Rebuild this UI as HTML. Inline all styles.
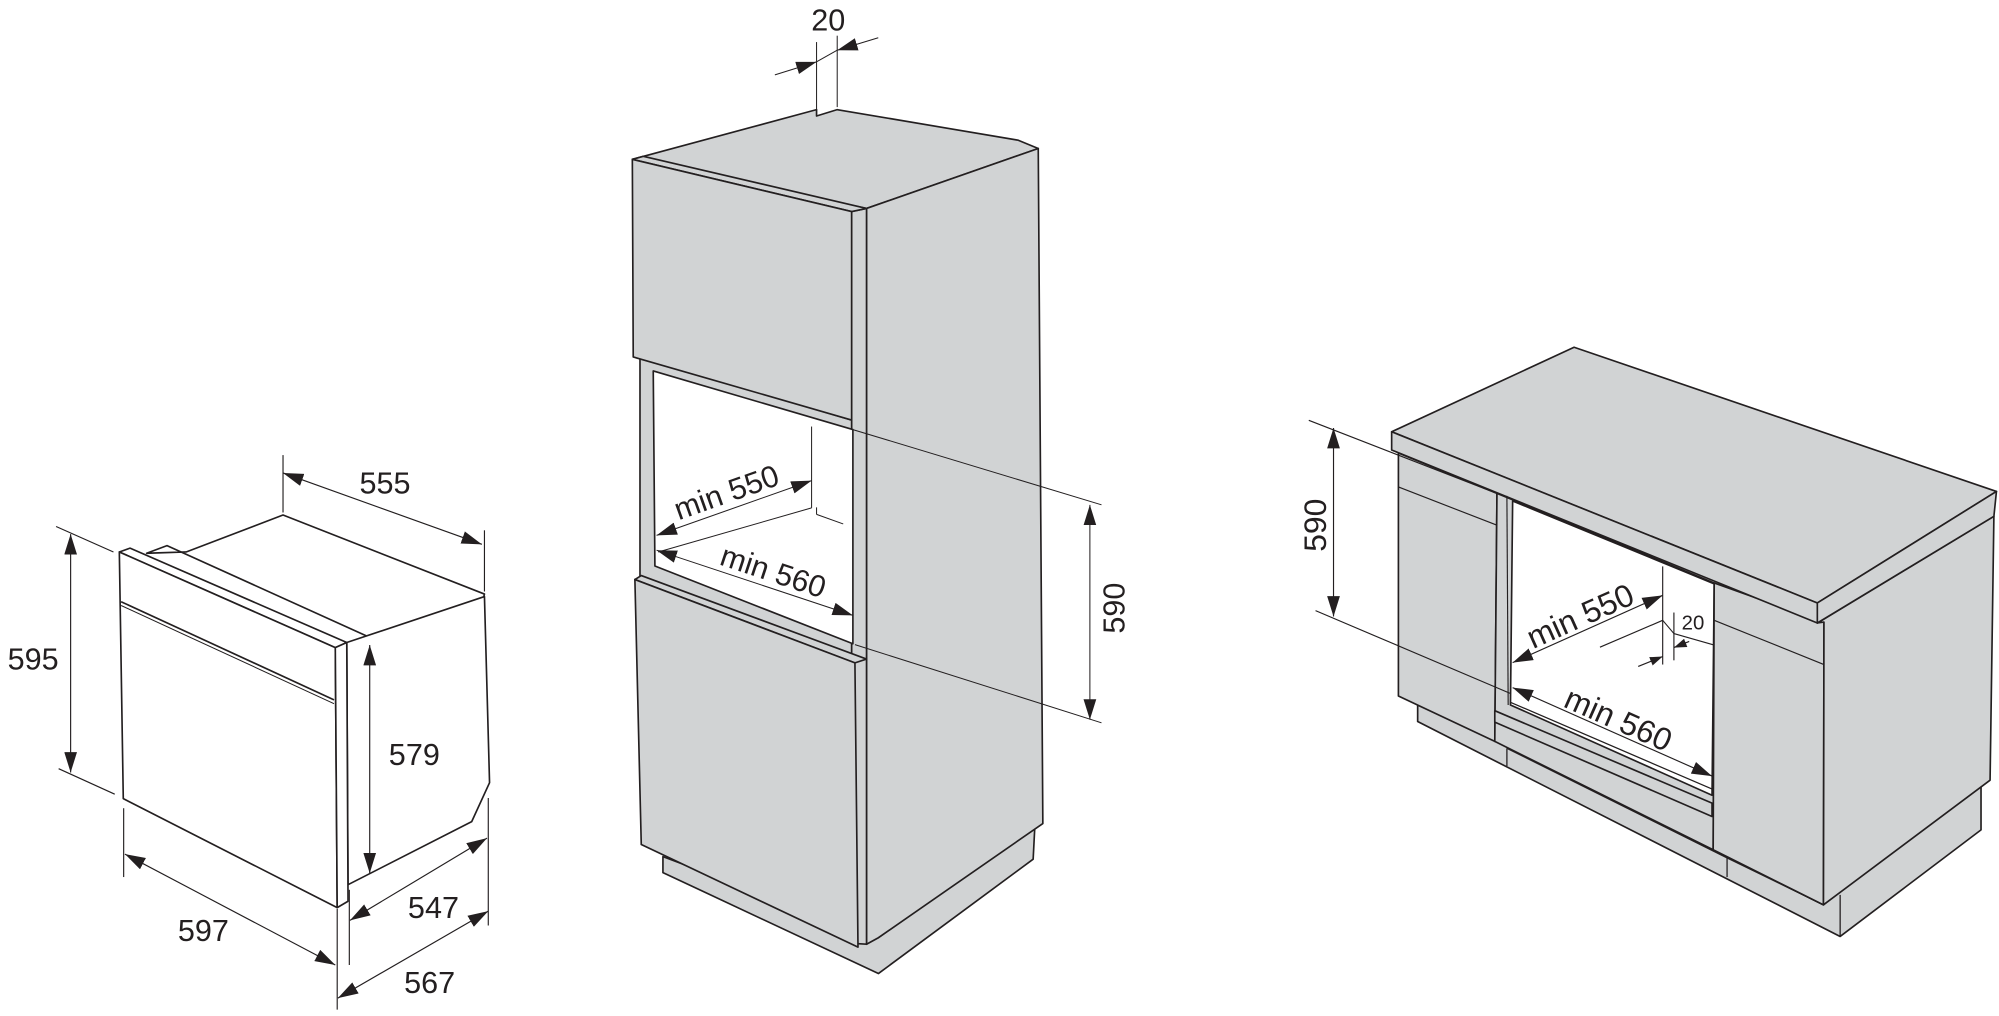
<!DOCTYPE html>
<html><head><meta charset="utf-8"><style>
html,body{margin:0;padding:0;background:#fff;}
svg{display:block;}
text{font-family:"Liberation Sans",Arial,sans-serif;fill:#231f20;}
</style></head><body>
<svg width="1999" height="1016" viewBox="0 0 1568 797" preserveAspectRatio="none" xmlns="http://www.w3.org/2000/svg">
<defs>
<marker id="a" viewBox="0 0 16 10" refX="16" refY="5" markerWidth="16" markerHeight="10" markerUnits="userSpaceOnUse" orient="auto-start-reverse"><path d="M0,0 L16,5 L0,10 z" fill="#231f20"/></marker>
<marker id="s" viewBox="0 0 10 7" refX="10" refY="3.5" markerWidth="10" markerHeight="7" markerUnits="userSpaceOnUse" orient="auto-start-reverse"><path d="M0,0 L10,3.5 L0,7 z" fill="#231f20"/></marker>
</defs>
<g stroke="#231f20" stroke-width="1.3" fill="none" stroke-linejoin="round">
<!-- LEFT OVEN -->
<polygon points="146,433 222,404 380,466 379,470 300,506 294,501 290,500 131,428 115,434" fill="#fff"/>
<polygon points="380,468 384,614 370,644.5 273,694 272,504" fill="#fff"/>
<polygon points="93.6,433 102,430 272,504 263,508" fill="#fff"/>
<polygon points="93.6,433 263,508 264.5,712 96.7,626.5" fill="#fff"/>
<polygon points="263,508 272,504 273,707 264.5,712" fill="#fff"/>
<line x1="95" y1="472" x2="262" y2="549"/><line x1="95" y1="475" x2="262" y2="552" stroke-width="0.8"/>
</g>
<g stroke="#231f20" stroke-width="0.9" fill="none">
<line x1="222" y1="357" x2="222" y2="402"/><line x1="380" y1="416" x2="380" y2="464"/>
<line x1="222" y1="371" x2="378" y2="427" marker-start="url(#a)" marker-end="url(#a)"/>
<line x1="44" y1="413" x2="89" y2="433"/><line x1="46" y1="603" x2="90" y2="623"/>
<line x1="55.4" y1="419" x2="55.4" y2="606" marker-start="url(#a)" marker-end="url(#a)"/>
<line x1="290" y1="506" x2="290" y2="685" marker-start="url(#a)" marker-end="url(#a)"/>
<line x1="97" y1="634" x2="97" y2="688"/><line x1="264.5" y1="713" x2="264.5" y2="792"/>
<line x1="98" y1="670" x2="263" y2="757" marker-start="url(#a)" marker-end="url(#a)"/>
<line x1="274" y1="698" x2="274" y2="757"/><line x1="383" y1="626" x2="383" y2="726"/>
<line x1="274.5" y1="722" x2="382" y2="657.5" marker-start="url(#a)" marker-end="url(#a)"/>
<line x1="265" y1="783" x2="383" y2="714.7" marker-start="url(#a)" marker-end="url(#a)"/>
</g>
<g font-size="24" text-anchor="middle">
<text x="302" y="387">555</text><text x="26" y="525">595</text><text x="325" y="600">579</text>
<text x="159.5" y="738">597</text><text x="340" y="720">547</text><text x="337" y="779">567</text>
</g>

<!-- MIDDLE CABINET -->
<g stroke="#231f20" stroke-width="1.3" stroke-linejoin="round">
<polygon points="520,672 520,684.5 689,763.7 810.4,674 811.7,648.7 689,735.6" fill="#d1d3d4"/>
<polygon points="496,125 640.5,86 640.5,91 656.7,86 798.7,110 814.4,116.5 679.7,163.5" fill="#d1d3d4"/>
<polygon points="679.7,163.5 814.4,116.5 818,646 689,735.6 679.7,740.7" fill="#d1d3d4"/>
<polygon points="668,166 679.7,163.5 679.7,740.7 668,740" fill="#d1d3d4"/>
<polygon points="502,280 668,329.5 668,520 502,455" fill="#d1d3d4"/>
<polygon points="512.4,291 669,337 669,505 513.7,444" fill="#fff"/>
<polygon points="496,125 504.6,122.6 679.7,163.5 668,166" fill="#d1d3d4"/>
<polygon points="496,125 668,166 668,329.5 496.7,280" fill="#d1d3d4"/>
<polygon points="498,454.6 503,451.5 679.7,517 670.6,520" fill="#d1d3d4"/>
<polygon points="498,454.6 670.6,520 673,743 503,662.5" fill="#d1d3d4"/>
</g>
<g stroke="#231f20" stroke-width="0.8" fill="none">
<line x1="636.6" y1="334.6" x2="636.6" y2="398.4"/><line x1="636.6" y1="398.4" x2="516.3" y2="433"/>
<line x1="640.5" y1="403.5" x2="661.4" y2="411"/><line x1="640.5" y1="398" x2="640.5" y2="403.5"/>
<line x1="640.5" y1="33" x2="640.5" y2="89"/><line x1="656.7" y1="28" x2="656.7" y2="84"/>
<line x1="607.8" y1="58.7" x2="640.5" y2="48.5" marker-end="url(#a)"/>
<line x1="688.9" y1="29.6" x2="656.7" y2="39.4" marker-end="url(#a)"/>
<line x1="640.5" y1="48.5" x2="656.7" y2="39.4"/>
<line x1="669" y1="337" x2="864" y2="396"/><line x1="670.6" y1="505.7" x2="864" y2="567"/>
<line x1="854.9" y1="396" x2="854.9" y2="564.5" marker-start="url(#a)" marker-end="url(#a)"/>
<line x1="515" y1="420" x2="636.6" y2="377" marker-start="url(#a)" marker-end="url(#a)"/>
<line x1="515" y1="431.6" x2="669" y2="482.7" marker-start="url(#a)" marker-end="url(#a)"/>
</g>
<g font-size="24" text-anchor="middle">
<text x="649.7" y="24">20</text>
<text transform="translate(572.5,394) rotate(-19.5)">min 550</text>
<text transform="translate(604,456) rotate(18.3)">min 560</text>
<text transform="translate(882,477) rotate(-90)">590</text>
</g>

<!-- RIGHT CABINET -->
<g stroke="#231f20" stroke-width="1.3" stroke-linejoin="round">
<polygon points="1112,553 1112,566 1443.4,734.6 1553.9,651 1553.9,612 1430.3,709.8 1343.8,666.6 1172.6,580" fill="#d1d3d4"/>
<polygon points="1096.9,355.3 1174.2,387 1172.5,581.6 1096.9,546" fill="#d1d3d4"/>
<polygon points="1174.2,387 1344.6,457.3 1343.8,666.6 1172.5,581.6" fill="#d1d3d4"/>
<polygon points="1186.5,393 1344.6,458 1342.9,623.8 1184.8,553" fill="#fff"/>
<polygon points="1172.5,557.5 1342.9,630 1342.9,640.5 1172.5,566.5" fill="#d1d3d4"/>
<polygon points="1344.6,457.3 1430.7,488 1430.3,709.8 1343.8,666.6" fill="#d1d3d4"/>
<polygon points="1425.5,488.7 1564,405 1561,612 1430.3,709.8 1430.7,488" fill="#d1d3d4"/>
<polygon points="1091.6,338.7 1234.7,272.4 1566,385.5 1425.5,473" fill="#d1d3d4"/>
<polygon points="1091.6,338.7 1425.5,473 1425.5,488.7 1091.6,353" fill="#d1d3d4"/>
<polygon points="1425.5,473 1566,385.5 1564,405 1425.5,488.7" fill="#d1d3d4"/>
</g>
<g stroke="#231f20" stroke-width="1" fill="none">
<line x1="1182" y1="587" x2="1182" y2="601"/>
<line x1="1354.7" y1="673" x2="1354.7" y2="688"/>
<line x1="1443.4" y1="702" x2="1443.4" y2="734.6"/>
<line x1="1182" y1="587" x2="1354.7" y2="673"/>
<line x1="1354.7" y1="673" x2="1430.3" y2="709.8"/>
<line x1="1185" y1="551" x2="1343" y2="619"/>
</g>
<g stroke="#231f20" stroke-width="0.9" fill="none">
<line x1="1096.9" y1="382" x2="1174.2" y2="412"/>
<line x1="1344.6" y1="486.6" x2="1430.7" y2="521.3"/>
<line x1="1182" y1="389" x2="1183" y2="553"/>
<line x1="1304.2" y1="444.3" x2="1304.2" y2="521.3"/>
<line x1="1313" y1="480.5" x2="1313" y2="518"/>
<line x1="1255" y1="507.7" x2="1304.2" y2="486.6"/>
<line x1="1313" y1="497" x2="1344.6" y2="506"/>
<line x1="1304.2" y1="486.6" x2="1313" y2="497"/>
<line x1="1285" y1="522.8" x2="1304.2" y2="515" marker-end="url(#s)"/>
<line x1="1325" y1="503.2" x2="1313" y2="508" marker-end="url(#s)"/>
<line x1="1026.6" y1="329.7" x2="1174" y2="387"/><line x1="1031.9" y1="479" x2="1184.8" y2="544"/>
<line x1="1046" y1="335.7" x2="1046" y2="483.6" marker-start="url(#a)" marker-end="url(#a)"/>
<line x1="1186.5" y1="519.8" x2="1304.2" y2="467" marker-start="url(#a)" marker-end="url(#a)"/>
<line x1="1186.5" y1="539.4" x2="1342.9" y2="608.8" marker-start="url(#a)" marker-end="url(#a)"/>
</g>
<g font-size="25" text-anchor="middle">
<text x="1328" y="494" font-size="16">20</text>
<text transform="translate(1243,491) rotate(-24.2)">min 550</text>
<text transform="translate(1266,572) rotate(23.9)">min 560</text>
<text transform="translate(1040,412) rotate(-90)">590</text>
</g>
</svg>
</body></html>
